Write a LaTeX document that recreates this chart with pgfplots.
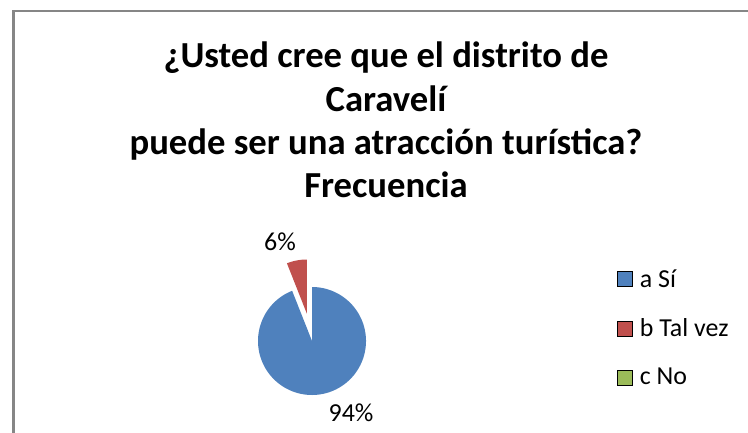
\documentclass[border=0pt]{standalone}
\usepackage{fontspec}
\setmainfont{Carlito}
\usepackage{pgfplots}
\pgfplotsset{compat=1.18}
\usepgfplotslibrary{polar}
\definecolor{siblue}{RGB}{79,129,189}
\definecolor{talred}{RGB}{192,80,77}
\definecolor{nogreen}{RGB}{155,187,89}
\definecolor{framegray}{RGB}{134,134,134}

% shares in percent: a Si, b Tal vez, c No
\def\pa{94}
\def\pb{6}
\def\pc{0}

\begin{document}
\begin{tikzpicture}[x=1bp,y=1bp]
\useasboundingbox (0,0) rectangle (748,432);
\draw[framegray, line width=3bp] (13.5,-10) -- (13.5,422);
\draw[framegray, line width=2bp] (12,421) -- (760,421);

\node[align=center, inner sep=0pt, anchor=north,
      font=\fontsize{36.8}{43.5}\selectfont\bfseries] at (386,390)
  {¿Usted cree que el distrito de\\Caravelí\\puede ser una atracción turística?\\Frecuencia};

\begin{polaraxis}[
    at={(312bp,91bp)}, anchor=origin,
    scale only axis, width=108bp, height=108bp,
    hide axis, clip=false,
    xmin=0, xmax=360, ymin=0, ymax=1,
    legend image code/.code={\fill[#1] (0bp,-7.5bp) rectangle (15bp,7.5bp);},
    legend style={at={(3.29,1.2)}, anchor=north west, draw=none, fill=none,
        font=\fontsize{26}{31}\selectfont, row sep=26bp,
        /tikz/every odd column/.append style={column sep=6bp}},
    legend cell align=left,
]
% slices run clockwise from 12 o'clock, as Excel draws them
\addplot[forget plot, fill=siblue, draw=none, domain={90+3.6*\pb}:450, samples=240]
    {1} -- (axis cs:0,0) -- cycle;
\addplot[forget plot, fill=talred, draw=none, domain=90:{90+3.6*\pb}, samples=20,
    xshift=-5.2bp, yshift=27.5bp]
    {1} -- (axis cs:0,0) -- cycle;
\addlegendimage{fill=siblue}
\addlegendimage{fill=talred}
\addlegendimage{fill=nogreen}
\legend{a Sí, b Tal vez, c No}
\end{polaraxis}

\node[font=\fontsize{26}{31}\selectfont] at (280,190) {6\%};
\node[font=\fontsize{26}{31}\selectfont] at (351,19) {94\%};
\end{tikzpicture}
\end{document}
